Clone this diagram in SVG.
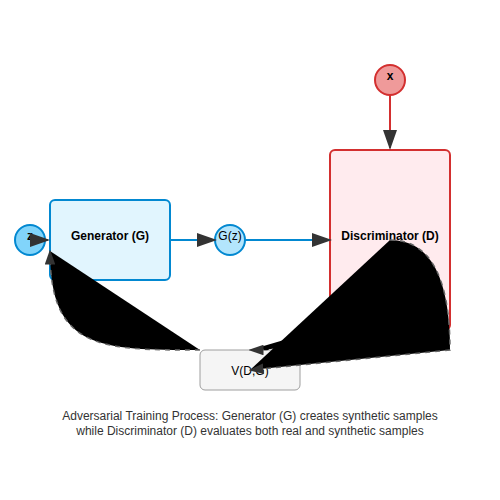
<svg xmlns="http://www.w3.org/2000/svg" width="500" height="500" viewBox="0 0 500 500">
<style>
text{font-family:"Liberation Sans",Arial,sans-serif;font-size:12px;fill:#000;text-anchor:middle}
.b{font-weight:bold}
.gen{fill:#e1f5fe;stroke:#0288d1;stroke-width:2}
.dis{fill:#ffebee;stroke:#d32f2f;stroke-width:2}
.blue{stroke:#0288d1;stroke-width:2;fill:none}
.red{stroke:#d32f2f;stroke-width:2;fill:none}
.fb{stroke:#666;stroke-width:1.5;stroke-dasharray:5,5}
.fb.inner{stroke:#000}
.cap{fill:#333}
</style>
<defs>
<marker id="arrow" markerWidth="10" markerHeight="7" refX="9" refY="3.5" orient="auto">
<polygon points="0 0, 10 3.5, 0 7" fill="#333"/>
</marker>
</defs>
<rect width="500" height="500" fill="#fff"/>
<g id="node-z">
<circle cx="30" cy="240" r="15" fill="#81d4fa" stroke="#0288d1" stroke-width="2"/>
<text x="30" y="240" class="b">z</text>
</g>
<g id="node-generator">
<rect x="50" y="200" width="120" height="80" rx="5" class="gen"/>
<text x="110" y="240" class="b">Generator (G)</text>
</g>
<g id="node-gz">
<circle cx="230" cy="240" r="15" fill="#b3e5fc" stroke="#0288d1" stroke-width="2"/>
<text x="230" y="240">G(z)</text>
</g>
<g id="node-x">
<circle cx="390" cy="80" r="15" fill="#ef9a9a" stroke="#d32f2f" stroke-width="2"/>
<text x="390" y="80" class="b">x</text>
</g>
<g id="node-discriminator">
<rect x="330" y="150" width="120" height="180" rx="5" class="dis"/>
<text x="390" y="240" class="b">Discriminator (D)</text>
</g>
<g id="node-value">
<rect x="200" y="350" width="100" height="40" rx="5" fill="#f5f5f5" stroke="#9e9e9e" stroke-width="1"/>
<text x="250" y="375">V(D,G)</text>
</g>
<g id="connectors">
<line x1="45" y1="240" x2="48" y2="240" class="blue" marker-end="url(#arrow)"/>
<line x1="170" y1="240" x2="215" y2="240" class="blue" marker-end="url(#arrow)"/>
<line x1="245" y1="240" x2="330" y2="240" class="blue" marker-end="url(#arrow)"/>
<line x1="390" y1="95" x2="390" y2="148" class="red" marker-end="url(#arrow)"/>
<path d="M 200 350 C 100 350, 50 350, 50 251" class="fb" marker-end="url(#arrow)"/>
<path d="M 390 240 Q 450 240 450 350 L 250 370" class="fb" marker-end="url(#arrow)"/>
<path d="M 420 300 Q 320 350 250 350" class="fb inner" marker-end="url(#arrow)"/>
</g>
<g id="caption">
<text x="250" y="420" class="cap">Adversarial Training Process: Generator (G) creates synthetic samples</text>
<text x="250" y="435" class="cap">while Discriminator (D) evaluates both real and synthetic samples</text>
</g>
</svg>
